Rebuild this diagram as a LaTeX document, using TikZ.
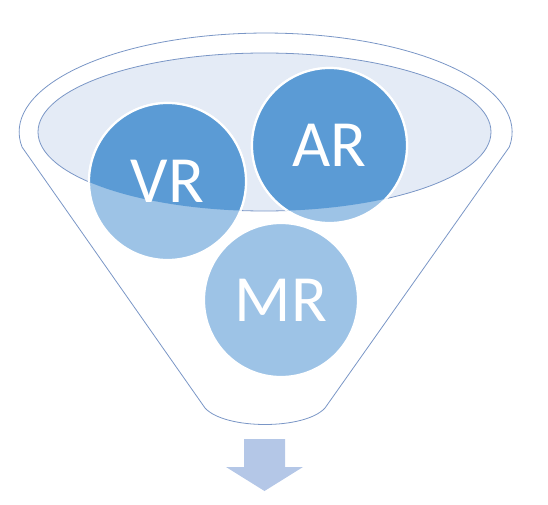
\documentclass[tikz,border=0pt]{standalone}
\usepackage{fontspec}
\setmainfont{Carlito}
\definecolor{funline}{RGB}{122,150,198}
\definecolor{rimfill}{RGB}{228,235,246}
\definecolor{darkc}{RGB}{91,155,213}
\definecolor{lightc}{RGB}{157,195,230}
\definecolor{arrowc}{RGB}{180,199,231}
\tikzset{
  outline/.style={draw=funline, line width=0.8pt},
  ballL/.style={circle, fill=lightc, draw=white, line width=2.2pt, inner sep=0pt},
  ballD/.style={circle, fill=darkc, draw=white, line width=2.2pt, inner sep=0pt},
  lbl/.style={text=white, font=\fontsize{66}{70}\selectfont, inner sep=0pt}
}
\begin{document}
\begin{tikzpicture}[x=1pt,y=1pt]
\useasboundingbox (0,0) rectangle (548,-505);
% outer funnel
\draw[outline] (22,-147) arc[start angle=188.7, end angle=-8.7, x radius=246.5, y radius=99]
  -- (325,-408) .. controls (305,-430) and (225,-430) .. (205,-408) -- cycle;
% inner rim ellipse
\path[outline, fill=rimfill] (264.5,-132) ellipse[x radius=226.5, y radius=79];
% circles (light, outside rim)
\node[ballL, minimum size=157pt] (vrL) at (167.5,-181.5) {};
\node[ballL, minimum size=155pt] (arL) at (329.5,-145.5) {};
\node[ballL, minimum size=154pt] (mr) at (281,-300) {};
% dark parts inside rim
\begin{scope}
  \clip (264.5,-132) ellipse[x radius=226.5, y radius=79];
  \node[ballD, minimum size=157pt] (vrD) at (167.5,-181.5) {};
  \node[ballD, minimum size=155pt] (arD) at (329.5,-145.5) {};
\end{scope}
% labels
\node[lbl] (vrt) at (vrL.center) {VR};
\node[lbl] (art) at (arL.center) {AR};
\node[lbl] (mrt) at (mr.center) {MR};
% down arrow
\fill[arrowc] (244,-439) -- (285,-439) -- (285,-467) -- (303,-467) -- (264.5,-491)
  -- (226,-467) -- (244,-467) -- cycle;
\end{tikzpicture}
\end{document}
